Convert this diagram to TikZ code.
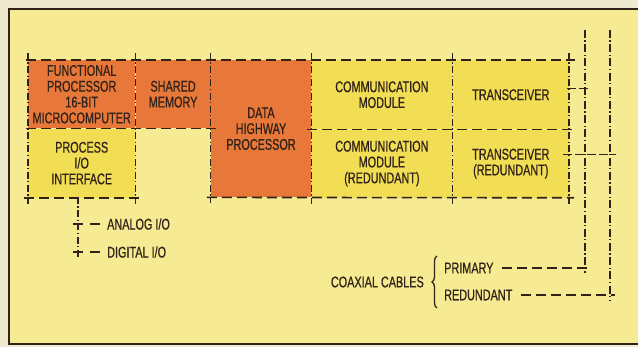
\documentclass[tikz,border=0pt]{standalone}
\usepackage{fontspec}
\setmainfont{Liberation Sans}[FakeStretch=0.7,FakeBold=0.6]
\usetikzlibrary{positioning,decorations.pathreplacing}

\definecolor{paper}{RGB}{239,233,207}
\definecolor{panel}{RGB}{246,235,146}
\definecolor{unitorange}{RGB}{232,120,58}
\definecolor{unityellow}{RGB}{242,222,84}
\definecolor{ink}{RGB}{48,34,24}

\begin{document}
\begin{tikzpicture}[x=1pt,y=-1pt,
    unit/.style={inner sep=0pt, align=center, text=ink,
        font=\fontsize{15.5}{15.8}\selectfont},
    orangeunit/.style={unit, fill=unitorange},
    yellowunit/.style={unit, fill=unityellow},
    label/.style={inner sep=0pt, text=ink, font=\fontsize{15.5}{15.8}\selectfont},
    hline/.style={draw=ink, line width=1.6pt, dash pattern=on 10pt off 5pt},
    vline/.style={draw=ink, line width=1.3pt, dash pattern=on 7pt off 2.5pt on 1.2pt off 2.5pt},
    cable/.style={draw=ink, line width=1.2pt, dash pattern=on 8pt off 2.5pt on 1.2pt off 2.5pt},
    tap/.style={draw=ink, line width=1.5pt, dash pattern=on 9pt off 3pt}
]

\clip (0,0) rectangle (638,347);
\fill[paper] (0,0) rectangle (638,347);
\draw[ink, line width=2.2pt, fill=panel] (9,9) rectangle (660,344);

% Processor side
\node[orangeunit, minimum width=107pt, minimum height=68pt, anchor=north west]
    (fp) at (28,60) {FUNCTIONAL\\PROCESSOR\\16-BIT\\MICROCOMPUTER};
\node[orangeunit, minimum width=75pt, minimum height=68pt, anchor=north west]
    (sm) at (fp.north east) {SHARED\\MEMORY};
\node[yellowunit, minimum width=107pt, minimum height=69pt, anchor=north west]
    (pio) at (fp.south west) {PROCESS\\I/O\\INTERFACE};
\node[orangeunit, minimum width=100pt, minimum height=137pt, anchor=north west]
    (dhp) at (sm.north east) {DATA\\HIGHWAY\\PROCESSOR};

% Communication side
\node[yellowunit, minimum width=141pt, minimum height=69pt, anchor=north west]
    (cm) at (dhp.north east) {COMMUNICATION\\MODULE};
\node[yellowunit, minimum width=116pt, minimum height=69pt, anchor=north west]
    (tr) at (cm.north east) {TRANSCEIVER};
\node[yellowunit, minimum width=141pt, minimum height=68pt, anchor=north west]
    (cmr) at (cm.south west) {COMMUNICATION\\MODULE\\(REDUNDANT)};
\node[yellowunit, minimum width=116pt, minimum height=68pt, anchor=north west]
    (trr) at (tr.south west) {TRANSCEIVER\\(REDUNDANT)};

% Horizontal boundaries
\draw[hline] ([xshift=-2pt]fp.north west) -- ([xshift=6pt]tr.north east);
\draw[hline] ([xshift=-2pt]fp.south west) -- ([xshift=5pt]sm.south east);
\draw[hline] ([xshift=-4pt]cm.south west) -- ([xshift=3pt]tr.south east);
\draw[hline] ([xshift=-4pt]pio.south west) -- ([xshift=5pt]pio.south east);
\draw[hline] ([xshift=-4pt]dhp.south west) -- ([xshift=5pt]trr.south east);

% Vertical boundaries
\foreach \upper/\lower in {fp.north west/pio.south west, fp.north east/pio.south east,
    sm.north east/dhp.south west, dhp.north east/cmr.south west,
    cm.north east/cmr.south east, tr.north east/trr.south east}
  \draw[vline] ([yshift=7pt]\upper) -- ([yshift=-6pt]\lower);

% I/O lines
\coordinate (iobus) at (78,197);
\node[label, anchor=west] (ana) at (107,224) {ANALOG I/O};
\node[label, anchor=west] (dig) at (107,252) {DIGITAL I/O};
\draw[vline] (iobus) -- ([yshift=-5pt]iobus |- dig.west);
\draw[tap, dash pattern=on 10pt off 7pt] ([xshift=-5pt]iobus |- ana.west) -- ([xshift=-7pt]ana.west);
\draw[tap, dash pattern=on 10pt off 7pt] ([xshift=-5pt]iobus |- dig.west) -- ([xshift=-7pt]dig.west);

% Coaxial cables
\coordinate (pritop) at (585,30);
\coordinate (redtop) at (610,30);
\node[label, anchor=west] (pri) at (444,268) {PRIMARY};
\node[label, anchor=west] (red) at (444,295) {REDUNDANT};
\node[label, anchor=east] (coax) at (424,282) {COAXIAL CABLES};
\draw[ink, line width=1.3pt, decorate, decoration={brace, amplitude=5pt}]
    ([shift={(-7,13)}]red.west) -- ([shift={(-7,-12)}]pri.west);
\draw[cable] (pritop) -- ([yshift=-5pt]pritop |- pri.east);
\draw[cable] (redtop) -- ([yshift=-5pt]redtop |- red.east);
\draw[hline] ([xshift=8pt]pri.east) -- ([xshift=5pt]pritop |- pri.east);
\draw[hline] ([xshift=8pt]red.east) -- ([xshift=5pt]redtop |- red.east);

% Taps from the transceivers
\draw[tap] ([shift={(-2,-6)}]tr.east) -- ([shift={(5,-6)}]tr.east -| pritop);
\draw[tap] ([shift={(-6,-9)}]trr.east) -- ([shift={(6,-9)}]trr.east -| redtop);

\end{tikzpicture}
\end{document}
